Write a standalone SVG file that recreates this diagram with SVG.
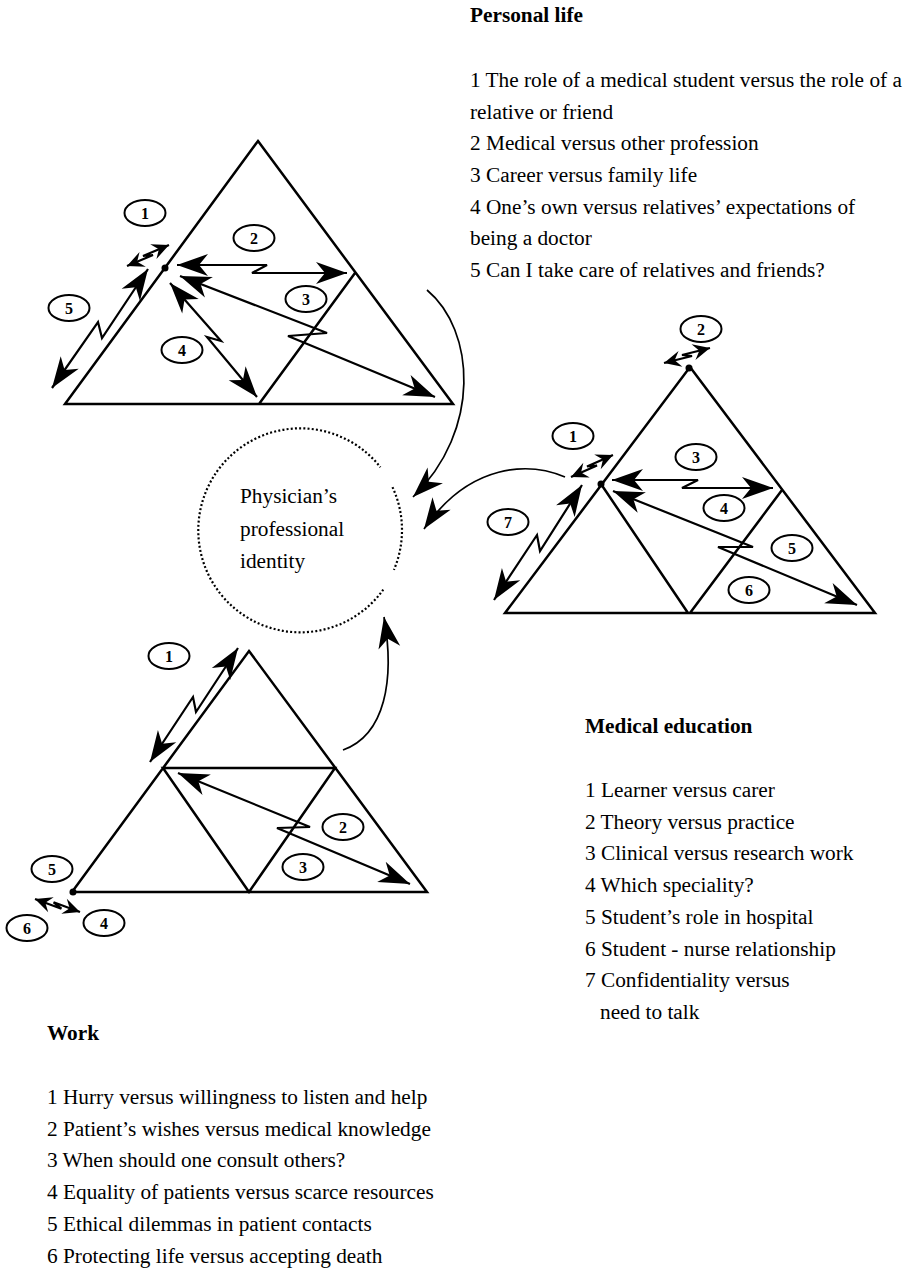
<svg xmlns="http://www.w3.org/2000/svg" width="907" height="1268" viewBox="0 0 907 1268">
<defs>
<marker id="ah" viewBox="-34 -13 36 26" refX="0" refY="0" markerWidth="36" markerHeight="26" markerUnits="userSpaceOnUse" orient="auto-start-reverse"><path d="M0,0 L-31,-11 L-22,0 L-31,11 Z" fill="#000"/></marker>
<marker id="as" viewBox="-20 -10 22 20" refX="0" refY="0" markerWidth="22" markerHeight="20" markerUnits="userSpaceOnUse" orient="auto-start-reverse"><path d="M0,0 L-17,-8 L-11,0 L-17,8 Z" fill="#000"/></marker>
</defs>
<style>
.tri{fill:none;stroke:#000;stroke-width:2.5;stroke-linejoin:miter}
.arr{fill:none;stroke:#000;stroke-width:2.2;marker-start:url(#ah);marker-end:url(#ah)}
.sarr{fill:none;stroke:#000;stroke-width:2.2;marker-start:url(#as);marker-end:url(#as)}
.curve{fill:none;stroke:#000;stroke-width:1.7;marker-end:url(#ah)}
.lab ellipse{fill:#fff;stroke:#000;stroke-width:2}
.lab text{font-family:"Liberation Serif","Times New Roman",serif;font-weight:bold;font-size:16px;text-anchor:middle}
.txt{font-family:"Liberation Serif","Times New Roman",serif;font-size:21.3px;fill:#000}
.hd{font-weight:bold}
.dotc{fill:none;stroke:#000;stroke-width:2.2;stroke-dasharray:2 2.2}
</style>
<rect width="907" height="1268" fill="#fff"/>

<g id="personal-life-triangle">
<path class="tri" d="M258,141 L453,404 L65,404 Z M355,273 L259,404"/>
<circle cx="165" cy="268" r="3.5"/>
<path class="arr" d="M177,265 L267,265 L252,273 L347,273"/>
<path class="arr" d="M180,276 L327,333 L288,336 L435,397"/>
<path class="arr" d="M170,283 L221,341 L207,337 L257,397"/>
<path class="arr" d="M148,269 L102,338 L98,322 L52,388"/>
<path class="sarr" d="M127,266 L153,255 L143,256 L169,245"/>
<g class="lab"><ellipse cx="145" cy="213" rx="20.5" ry="13"/><text x="145" y="218.5">1</text></g>
<g class="lab"><ellipse cx="254" cy="238" rx="20.5" ry="13"/><text x="254" y="243.5">2</text></g>
<g class="lab"><ellipse cx="306" cy="299" rx="20.5" ry="13"/><text x="306" y="304.5">3</text></g>
<g class="lab"><ellipse cx="182" cy="350" rx="20.5" ry="13"/><text x="182" y="355.5">4</text></g>
<g class="lab"><ellipse cx="69" cy="308" rx="20.5" ry="13"/><text x="69" y="313.5">5</text></g>
</g>

<g id="medical-education-triangle">
<path class="tri" d="M690,367 L875,613 L505,613 Z M601,484 L688,613 M782,490 L690,613"/>
<circle cx="601" cy="484" r="3.5"/>
<circle cx="689" cy="368" r="3.5"/>
<path class="arr" d="M612,480 L698,480 L682,488 L773,488"/>
<path class="arr" d="M613,491 L753,547 L718,547 L857,605"/>
<path class="arr" d="M582,485 L540,551 L537,535 L494,600"/>
<path class="sarr" d="M571,477 L597,465.5 L587,466.5 L613,455"/>
<path class="sarr" d="M664,363 L692,356 L682,355 L710,348"/>
<g class="lab"><ellipse cx="573" cy="436" rx="20.5" ry="13"/><text x="573" y="441.5">1</text></g>
<g class="lab"><ellipse cx="701" cy="329" rx="20.5" ry="13"/><text x="701" y="334.5">2</text></g>
<g class="lab"><ellipse cx="696" cy="457" rx="20.5" ry="13"/><text x="696" y="462.5">3</text></g>
<g class="lab"><ellipse cx="724" cy="508" rx="20.5" ry="13"/><text x="724" y="513.5">4</text></g>
<g class="lab"><ellipse cx="792" cy="548" rx="20.5" ry="13"/><text x="792" y="553.5">5</text></g>
<g class="lab"><ellipse cx="749" cy="590" rx="20.5" ry="13"/><text x="749" y="595.5">6</text></g>
<g class="lab"><ellipse cx="508" cy="522" rx="20.5" ry="13"/><text x="508" y="527.5">7</text></g>
</g>

<g id="work-triangle">
<path class="tri" d="M249,651 L427,892 L72,892 Z M163,768 L335,768 L249,892 Z"/>
<circle cx="73" cy="892" r="3.5"/>
<path class="arr" d="M238,648 L196,712 L193,697 L150,762"/>
<path class="arr" d="M178,773 L310,827 L277,828 L410,884"/>
<path class="sarr" d="M35,899 L61.4,908.7 L53.6,902.3 L80,912"/>
<g class="lab"><ellipse cx="169" cy="656" rx="20.5" ry="13"/><text x="169" y="661.5">1</text></g>
<g class="lab"><ellipse cx="343" cy="827" rx="20.5" ry="13"/><text x="343" y="832.5">2</text></g>
<g class="lab"><ellipse cx="303" cy="867" rx="20.5" ry="13"/><text x="303" y="872.5">3</text></g>
<g class="lab"><ellipse cx="104" cy="923" rx="20.5" ry="13"/><text x="104" y="928.5">4</text></g>
<g class="lab"><ellipse cx="52" cy="869" rx="20.5" ry="13"/><text x="52" y="874.5">5</text></g>
<g class="lab"><ellipse cx="27" cy="928" rx="20.5" ry="13"/><text x="27" y="933.5">6</text></g>
</g>

<g id="identity">
<path class="dotc" d="M383.3,589.6 A102,102 0 1 1 380.4,467.2"/>
<path class="dotc" d="M392.5,487.1 A102,102 0 0 1 393.9,569.9"/>
<text class="txt" x="240" y="503">Physician’s</text>
<text class="txt" x="240" y="536">professional</text>
<text class="txt" x="240" y="568">identity</text>
</g>

<g id="connectors">
<path class="curve" d="M427,290 C475,330 482,430 413,497"/>
<path class="curve" d="M565,477 C530,462 470,462 424,529"/>
<path class="curve" d="M343,750 C385,735 395,680 384,617"/>
</g>

<g id="personal-life-text" class="txt">
<text class="hd" x="470" y="22">Personal life</text>
<text x="470" y="87">1 The role of a medical student versus the role of a</text>
<text x="470" y="118.7">relative or friend</text>
<text x="470" y="150.3">2 Medical versus other profession</text>
<text x="470" y="182">3 Career versus family life</text>
<text x="470" y="213.7">4 One’s own versus relatives’ expectations of</text>
<text x="470" y="245.3">being a doctor</text>
<text x="470" y="277">5 Can I take care of relatives and friends?</text>
</g>

<g id="medical-education-text" class="txt">
<text class="hd" x="585" y="733">Medical education</text>
<text x="585" y="797">1 Learner versus carer</text>
<text x="585" y="828.5">2 Theory versus practice</text>
<text x="585" y="860">3 Clinical versus research work</text>
<text x="585" y="892">4 Which speciality?</text>
<text x="585" y="924">5 Student’s role in hospital</text>
<text x="585" y="955.5">6 Student - nurse relationship</text>
<text x="585" y="987.3">7 Confidentiality versus</text>
<text x="600" y="1019">need to talk</text>
</g>

<g id="work-text" class="txt">
<text class="hd" x="47" y="1040">Work</text>
<text x="47" y="1104">1 Hurry versus willingness to listen and help</text>
<text x="47" y="1135.7">2 Patient’s wishes versus medical knowledge</text>
<text x="47" y="1167.3">3 When should one consult others?</text>
<text x="47" y="1199.3">4 Equality of patients versus scarce resources</text>
<text x="47" y="1231">5 Ethical dilemmas in patient contacts</text>
<text x="47" y="1262.7">6 Protecting life versus accepting death</text>
</g>
</svg>
